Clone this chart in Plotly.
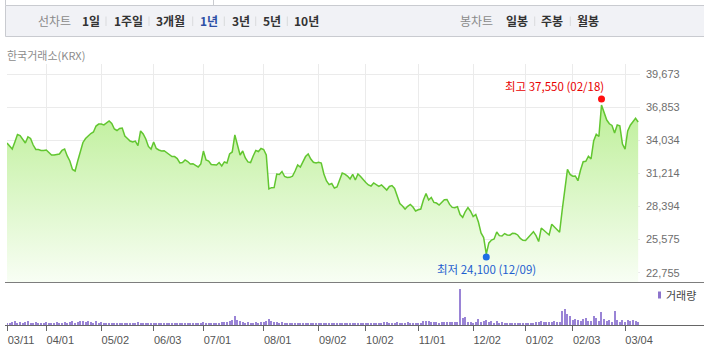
import plotly.graph_objects as go
import pandas as pd

W, H = 704, 354
ML, MR, MT, MB = 7, 64, 64, 29
PW = W - ML - MR
PH = H - MT - MB


def px(x):
    return (x - ML) / PW


def py(y):
    return (H - MB - y) / PH


# ---------------- data ----------------
holidays = ["2024-04-10", "2024-05-01", "2024-05-06", "2024-05-15", "2024-06-06",
            "2024-08-15", "2024-09-16", "2024-09-17", "2024-09-18", "2024-10-01",
            "2024-10-03", "2024-10-09", "2024-12-25", "2024-12-31", "2025-01-01",
            "2025-01-27", "2025-01-28", "2025-01-29", "2025-01-30", "2025-03-03"]
dates = [d.strftime("%Y-%m-%d") for d in pd.bdate_range("2024-03-11", "2025-03-11")
         if d.strftime("%Y-%m-%d") not in holidays]

close = [
    33800, 33550, 33290, 33890, 34530, 34440, 34060, 33800, 34320, 34190,
    33630, 33250, 33250, 33170, 33170, 33210, 33000, 32780, 32780, 32800,
    32870, 33170, 33290, 32700, 32270, 31550, 31420, 32270, 33040, 33850,
    34190, 34440, 34610, 34740, 35250, 35420, 35420, 35340, 35510, 35680,
    35470, 35000, 34870, 35040, 35080, 34400, 34190, 33970, 33890, 33970,
    33590, 34830, 34570, 34150, 33510, 33290, 33890, 33340, 33210, 33120,
    33150, 33000, 32820, 32650, 32650, 32480, 32100, 32140, 32360, 32230,
    32020, 32040, 31890, 31760, 32020, 33120, 32360, 32270, 31970, 31930,
    31930, 32140, 31850, 32190, 32100, 32870, 33040, 34490, 33630, 32780,
    33120, 32530, 32190, 32140, 32700, 33170, 33080, 33340, 33250, 32780,
    29890, 30000, 30010, 31160, 31120, 31380, 30950, 30870, 30880, 30970,
    31420, 31930, 31760, 32190, 32650, 32870, 32440, 32160, 32100, 32160,
    32100, 31160, 30570, 30260, 30350, 29970, 30060, 30650, 31250, 31160,
    30990, 30740, 31140, 30650, 31160, 30950, 30650, 30440, 30230, 30140,
    30400, 30250, 30100, 30230, 30010, 29800, 30100, 30180, 29930, 29370,
    28650, 28440, 28180, 28410, 28570, 28350, 28010, 28120, 28180, 28950,
    29500, 28950, 29160, 28740, 28690, 28520, 28740, 28970, 28990, 28570,
    28320, 28290, 28380, 27710, 27470, 27970, 28310, 27990, 27530, 27710,
    27070, 26140, 25750, 24350, 25290, 25540, 25630, 26220, 25910, 25880,
    26090, 25970, 25950, 26110, 26090, 25970, 25670, 25520, 25500, 25750,
    25990, 26250, 25910, 25410, 26560, 26390, 26140, 25970, 26880, 26650,
    26440, 26200, 28100, 29930, 31550, 31130, 30980, 31000, 30590, 31500,
    32210, 32250, 32680, 32440, 33970, 34550, 34360, 37040, 36360, 35760,
    35440, 35300, 34660, 35340, 35270, 33720, 33290, 34830, 35320, 35580,
    35910, 35590,
]

volume = [
    100, 125, 150, 225, 100, 150, 125, 150, 200, 100,
    125, 175, 100, 125, 100, 150, 100, 125, 100, 150,
    125, 100, 150, 125, 150, 200, 125, 150, 225, 200,
    175, 200, 150, 125, 225, 125, 150, 100, 125, 100,
    125, 100, 100, 125, 100, 100, 125, 100, 100, 125,
    150, 125, 100, 100, 125, 100, 100, 125, 100, 100,
    125, 100, 100, 125, 100, 100, 125, 100, 125, 100,
    125, 100, 100, 125, 100, 150, 125, 100, 125, 100,
    125, 100, 150, 175, 150, 225, 250, 450, 250, 200,
    150, 125, 150, 100, 125, 150, 100, 175, 150, 200,
    325, 200, 150, 150, 125, 150, 125, 100, 125, 100,
    125, 100, 100, 125, 100, 125, 100, 100, 125, 100,
    100, 75, 100, 75, 100, 75, 75, 100, 75, 100,
    75, 75, 100, 75, 75, 100, 75, 75, 100, 100,
    100, 100, 75, 125, 150, 150, 125, 100, 100, 150,
    125, 100, 100, 150, 100, 100, 125, 100, 125, 200,
    225, 225, 150, 175, 150, 125, 150, 175, 150, 175,
    175, 150, 175, 1800, 350, 400, 175, 150, 125, 150,
    300, 150, 200, 250, 150, 200, 125, 200, 125, 150,
    125, 100, 100, 125, 100, 100, 100, 75, 100, 100,
    125, 125, 150, 175, 200, 150, 150, 175, 150, 200,
    175, 150, 700, 800, 550, 450, 250, 300, 250, 200,
    300, 350, 200, 200, 450, 350, 200, 650, 300, 200,
    250, 150, 700, 250, 150, 250, 150, 250, 200, 250,
    200, 150,
]

y_ticks = [22755, 25575, 28394, 31214, 34034, 36853, 39673]
y_tick_text = ["22,755", "25,575", "28,394", "31,214", "34,034", "36,853", "39,673"]
x_tick_dates = ["2024-03-11", "2024-04-01", "2024-05-02", "2024-06-03", "2024-07-01",
                "2024-08-01", "2024-09-02", "2024-10-02", "2024-11-01", "2024-12-02",
                "2025-01-02", "2025-02-03", "2025-03-04"]
x_tick_text = ["03/11", "04/01", "05/02", "06/03", "07/01", "08/01", "09/02",
               "10/02", "11/01", "12/02", "01/02", "02/03", "03/04"]

high_date, high_value = "2025-02-18", 37550
low_date, low_value = "2024-12-09", 24100

period_tabs = ["1일", "1주일", "3개월", "1년", "3년", "5년", "10년"]
candle_tabs = ["일봉", "주봉", "월봉"]

# ---------------- figure ----------------
KR = "Noto Sans CJK KR"
NUM = "Liberation Sans"

fig = go.Figure()

fig.add_trace(go.Scatter(
    x=dates, y=close, mode="lines",
    line=dict(color="#62c630", width=1.5),
    fill="tozeroy",
    fillgradient=dict(type="vertical",
                      colorscale=[[0, "#f8fef4"], [1, "#bdef98"]],
                      start=21963, stop=37300),
    xaxis="x", yaxis="y", hoverinfo="skip", showlegend=False,
))

fig.add_trace(go.Scatter(
    x=[high_date, low_date], y=[high_value, low_value], mode="markers",
    marker=dict(color=["#ff1010", "#1e6ee6"], size=7, line=dict(width=0)),
    xaxis="x", yaxis="y", hoverinfo="skip", showlegend=False, cliponaxis=False,
))

fig.add_trace(go.Bar(
    x=dates, y=volume, marker=dict(color="#9a84d6", line=dict(width=0)),
    width=0.42, xaxis="x2", yaxis="y2", hoverinfo="skip", showlegend=False,
))

y_lo, y_hi = 21963, 40534

fig.update_layout(
    width=W, height=H,
    margin=dict(l=ML, r=MR, t=MT, b=MB, pad=0),
    paper_bgcolor="white", plot_bgcolor="white",
    bargap=0,
    xaxis=dict(domain=[0, 1], anchor="y", type="category", range=[0, 241.7],
               tickvals=x_tick_dates, showticklabels=False, ticks="",
               showgrid=True, gridcolor="#ebebeb", gridwidth=1,
               zeroline=False, showline=False, fixedrange=True),
    xaxis2=dict(domain=[0, 1], anchor="y2", type="category", matches="x",
                range=[0, 241.7], tickvals=x_tick_dates, ticktext=x_tick_text,
                ticks="outside", ticklen=5, tickcolor="#666666", tickwidth=1,
                ticklabelshift=14,
                tickfont=dict(family=NUM, size=11, color="#555555"),
                showgrid=False, zeroline=False, showline=False),
    yaxis=dict(domain=[py(282), 1], anchor="x", range=[y_lo, y_hi], side="right",
               tickvals=y_ticks, ticktext=y_tick_text, ticks="",
               ticklabelstandoff=5,
               tickfont=dict(family=NUM, size=11, color="#6e6e6e"),
               showgrid=True, gridcolor="#ebebeb", gridwidth=1,
               zeroline=False, showline=False),
    yaxis2=dict(domain=[0, py(285)], anchor="x2", range=[0, 2000],
                visible=False),
)

shapes = []
# navigation bar
shapes.append(dict(type="rect", xref="paper", yref="paper",
                   x0=px(5.5), x1=px(706), y0=py(5.5), y1=py(36.5),
                   fillcolor="#f1f2f6", line=dict(color="#c9cbd0", width=1), layer="below"))
for vx in (5.5, 213.5):
    shapes.append(dict(type="line", xref="paper", yref="paper",
                       x0=px(vx), x1=px(vx), y0=py(0), y1=py(5.5),
                       line=dict(color="#c9cbd0", width=1)))
for sx in (106, 149, 192.7, 224.3, 255.7, 287.3, 534.7, 570.3):
    shapes.append(dict(type="line", xref="paper", yref="paper",
                       x0=px(sx), x1=px(sx), y0=py(16.5), y1=py(26),
                       line=dict(color="#d9dadd", width=1)))
# panel separator lines
shapes.append(dict(type="line", xref="paper", yref="paper",
                   x0=px(5), x1=px(704), y0=py(282.5), y1=py(282.5),
                   line=dict(color="#7d7d7d", width=1)))
shapes.append(dict(type="line", xref="paper", yref="paper",
                   x0=px(5), x1=px(704), y0=py(325.5), y1=py(325.5),
                   line=dict(color="#666666", width=1)))
# volume legend mark
shapes.append(dict(type="rect", xref="paper", yref="paper",
                   x0=px(658), x1=px(661), y0=py(291.5), y1=py(298.5),
                   fillcolor="#8d74cc", line=dict(width=0)))
fig.update_layout(shapes=shapes)

ann = []


def label(x, y, text, color, size=12, weight="normal", xanchor="center", family=KR):
    ann.append(dict(xref="paper", yref="paper", x=px(x), y=py(y), text=text,
                    showarrow=False, xanchor=xanchor, yanchor="middle",
                    font=dict(family=family, size=size, color=color, weight=weight)))


label(54.3, 21, "선차트", "#8a8a8a", size=12)
tab_x = [91, 128.7, 170.8, 208.7, 240.5, 271.7, 306.7]
for t, x in zip(period_tabs, tab_x):
    label(x, 21, t, "#2d4fa6" if t == "1년" else "#333333", size=12, weight="bold")
label(476.3, 21, "봉차트", "#8a8a8a", size=12)
for t, x in zip(candle_tabs, [517, 551.7, 588.3]):
    label(x, 21, t, "#333333", size=12, weight="bold")

label(5, 55, "한국거래소(KRX)", "#8c8c8c", size=11, xanchor="left")
label(663.5, 295, "거래량", "#444444", size=11, xanchor="left")

# high / low annotations anchored to the data points
ann.append(dict(xref="x", yref="y", x=high_date, y=high_value,
                text=f"최고 {high_value:,} ({high_date[5:7]}/{high_date[8:10]})",
                showarrow=False, xanchor="right", yanchor="middle",
                xshift=4, yshift=13,
                font=dict(family=KR, size=11.5, color="#e80000")))
ann.append(dict(xref="x", yref="y", x=low_date, y=low_value,
                text=f"최저 {low_value:,} ({low_date[5:7]}/{low_date[8:10]})",
                showarrow=False, xanchor="center", yanchor="middle",
                xshift=0, yshift=-12,
                font=dict(family=KR, size=11.5, color="#1f5fcf")))
fig.update_layout(annotations=ann)

fig.write_html("out.html")
